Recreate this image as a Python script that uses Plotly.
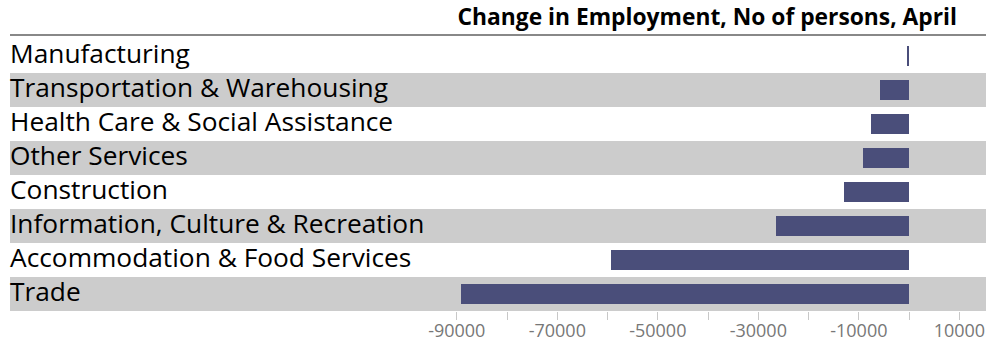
import plotly.graph_objects as go

categories = [
    "Manufacturing",
    "Transportation & Warehousing",
    "Health Care & Social Assistance",
    "Other Services",
    "Construction",
    "Information, Culture & Recreation",
    "Accommodation & Food Services",
    "Trade",
]
changes = [-400, -5800, -7500, -9200, -12900, -26500, -59300, -89200]

tick_values = [-90000, -80000, -70000, -60000, -50000, -40000, -30000, -20000, -10000, 0, 10000]
tick_labels = ["-90000", "", "-70000", "", "-50000", "", "-30000", "", "-10000", "", "10000"]

title_text = "Change in Employment, No of persons, April"

FONT = "Open Sans"
BAR_COLOR = "#4a4e7a"
BAND_COLOR = "#cccccc"

fig = go.Figure()
fig.add_trace(go.Bar(
    x=changes,
    y=categories,
    orientation="h",
    width=0.58,
    marker=dict(color=BAR_COLOR, line=dict(width=0)),
    hoverinfo="x+y",
))

shapes = []
for i, cat in enumerate(categories):
    if i % 2 == 1:
        shapes.append(dict(
            type="rect", xref="paper", yref="y",
            x0=0, x1=1, y0=i - 0.5, y1=i + 0.5,
            fillcolor=BAND_COLOR, line=dict(width=0), layer="below",
        ))
# line under the title
shapes.append(dict(
    type="line", xref="paper", yref="paper",
    x0=0, x1=1, y0=1.0147, y1=1.0147,
    line=dict(color="#888888", width=2),
))

annotations = []
for i, cat in enumerate(categories):
    annotations.append(dict(
        xref="paper", yref="y", x=0, y=i,
        text=cat, showarrow=False, xanchor="left", yanchor="middle",
        font=dict(family=FONT, size=26.3, color="#000000"),
        xshift=-2, yshift=3,
    ))

fig.update_layout(
    width=991, height=341,
    margin=dict(l=10, r=5, t=39, b=30, pad=0, autoexpand=False),
    plot_bgcolor="white", paper_bgcolor="white",
    showlegend=False,
    bargap=0,
    shapes=shapes,
    annotations=annotations,
    title=dict(
        text="<b>" + title_text + "</b>",
        xref="container", yref="container",
        x=957 / 991, xanchor="right",
        y=1 - 17 / 341, yanchor="middle",
        font=dict(family=FONT, size=22.8, color="#000000"),
        automargin=False,
    ),
    xaxis=dict(
        range=[-178900, 15300],
        tickmode="array", tickvals=tick_values, ticktext=tick_labels,
        ticks="outside", ticklen=8, tickwidth=1, tickcolor="#c8c8c8",
        ticklabelstandoff=-5,
        showgrid=False, zeroline=False, showline=False,
        tickfont=dict(family=FONT, size=18, color="#777777"),
        automargin=False,
        fixedrange=True,
    ),
    yaxis=dict(
        type="category",
        categoryorder="array", categoryarray=categories,
        range=[7.5, -0.5],
        showticklabels=False, showgrid=False, zeroline=False, showline=False,
        ticks="", automargin=False,
        fixedrange=True,
    ),
)

fig.write_html("out.html")
